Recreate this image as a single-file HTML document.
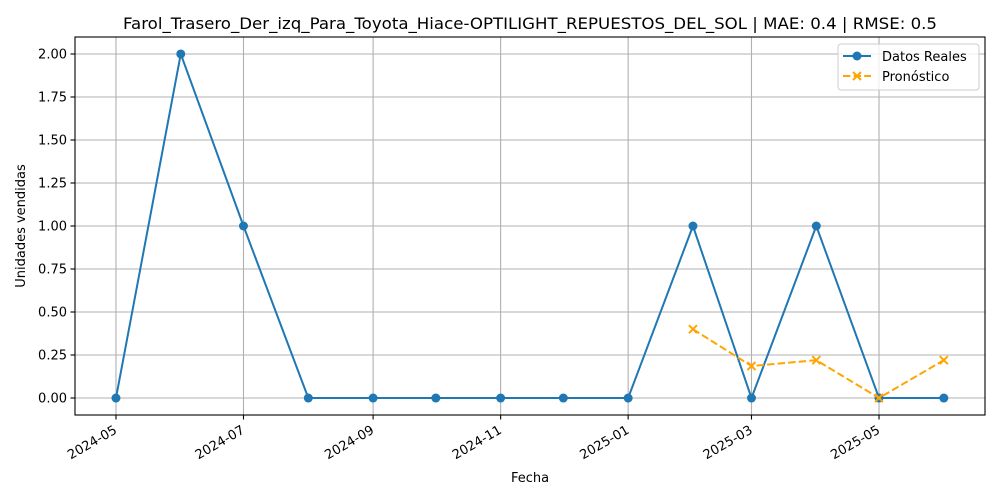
<!DOCTYPE html>
<html><head><meta charset="utf-8"><style>
html,body{margin:0;padding:0;background:#fff;}
svg{display:block;font-family:"DejaVu Sans","Liberation Sans",sans-serif;}
</style></head><body>
<svg id="chart" width="1000" height="500" xmlns="http://www.w3.org/2000/svg">
<rect x="0" y="0" width="1000" height="500" fill="#fff"/>
<text x="530" y="29" text-anchor="middle" font-size="16" textLength="814" lengthAdjust="spacingAndGlyphs" fill="#000">Farol_Trasero_Der_izq_Para_Toyota_Hiace-OPTILIGHT_REPUESTOS_DEL_SOL | MAE: 0.4 | RMSE: 0.5</text>
<g id="grid"></g>
<g id="axes"></g>
<g id="series"></g>
<rect x="75" y="37" width="910" height="378" fill="none" stroke="#000" stroke-width="1.1"/>
<text x="530" y="482" text-anchor="middle" font-size="13" fill="#000">Fecha</text>
<text transform="translate(25,226) rotate(-90)" text-anchor="middle" font-size="13" fill="#000">Unidades vendidas</text>
<g>
<rect x="838" y="44" width="141" height="46" rx="3" fill="#fff" fill-opacity="0.8" stroke="#ccc"/>
<g>
<line x1="843" y1="56" x2="871" y2="56" stroke="#1f77b4" stroke-width="2"/>
<circle cx="857" cy="56" r="4.5" fill="#1f77b4"/>
<text x="882" y="61" font-size="13" fill="#000">Datos Reales</text>
</g>
<g>
<line x1="843" y1="76" x2="871" y2="76" stroke="orange" stroke-width="2" stroke-dasharray="7.4,3.2"/>
<path d="M853,72 L861,80 M853,80 L861,72" stroke="orange" stroke-width="2"/>
<text x="882" y="81" font-size="13" fill="#000">Pronóstico</text>
</g>
</g>
</svg>
<script>
const actualDates = ["2024-05-01","2024-06-01","2024-07-01","2024-08-01","2024-09-01","2024-10-01","2024-11-01","2024-12-01","2025-01-01","2025-02-01","2025-03-01","2025-04-01","2025-05-01","2025-06-01"];
const actualValues = [0,2,1,0,0,0,0,0,0,1,0,1,0,0];
const forecastDates = ["2025-02-01","2025-03-01","2025-04-01","2025-05-01","2025-06-01"];
const forecastValues = [0.40,0.186,0.22,0.0,0.22];
const xTickLabels = ["2024-05","2024-07","2024-09","2024-11","2025-01","2025-03","2025-05"];
const yTickValues = [0,0.25,0.5,0.75,1.0,1.25,1.5,1.75,2.0];

const NS="http://www.w3.org/2000/svg";
const base=Date.UTC(2024,4,1), DAY=86400000;
function days(s){const p=s.split("-").map(Number);return (Date.UTC(p[0],p[1]-1,p[2]||1)-base)/DAY;}
const xMin=-19.6,xMax=415.7,L=75,R=985,T=37,B=415,yMin=-0.0988,yMax=2.0988;
function xs(d){return L+(days(d)-xMin)/(xMax-xMin)*(R-L);}
function ys(v){return B-(v-yMin)/(yMax-yMin)*(B-T);}
function mk(tag,attrs,parent){const e=document.createElementNS(NS,tag);for(const k in attrs)e.setAttribute(k,attrs[k]);parent.appendChild(e);return e;}
const grid=document.getElementById("grid"),axes=document.getElementById("axes"),series=document.getElementById("series");

yTickValues.forEach(v=>{
  const y=ys(v);
  const g=mk("line",{x1:L,x2:R,y1:y,y2:y,stroke:"#b0b0b0","stroke-width":1.1},grid);
  
  
  mk("line",{x1:L-4.5,x2:L,y1:y,y2:y,stroke:"#000","stroke-width":1.1},axes);
  const t=mk("text",{x:L-8,y:y+4.5,"text-anchor":"end","font-size":13,fill:"#000"},axes);
  t.textContent=v.toFixed(2);
  
  
});
xTickLabels.forEach(lbl=>{
  const x=xs(lbl+"-01");
  const g=mk("line",{x1:x,x2:x,y1:T,y2:B,stroke:"#b0b0b0","stroke-width":1.1},grid);
  
  
  mk("line",{x1:x,x2:x,y1:B,y2:B+4.5,stroke:"#000","stroke-width":1.1},axes);
  const t=mk("text",{transform:`translate(${x-3},${B+9}) rotate(-30)`,"text-anchor":"end","font-size":13,fill:"#000",dy:"0.75em"},axes);
  t.textContent=lbl;
  
  
});

const ap=actualDates.map((d,i)=>xs(d)+","+ys(actualValues[i])).join(" ");
const al=mk("polyline",{points:ap,fill:"none",stroke:"#1f77b4","stroke-width":2},series);


actualDates.forEach((d,i)=>{
  const c=mk("circle",{cx:xs(d),cy:ys(actualValues[i]),r:4.5,fill:"#1f77b4"},series);
  
  
});
const fp=forecastDates.map((d,i)=>xs(d)+","+ys(forecastValues[i])).join(" ");
const fl=mk("polyline",{points:fp,fill:"none",stroke:"orange","stroke-width":2,"stroke-dasharray":"7.4,3.2"},series);


forecastDates.forEach((d,i)=>{
  const x=xs(d),y=ys(forecastValues[i]);
  const m=mk("path",{d:`M${x-4},${y-4}L${x+4},${y+4}M${x-4},${y+4}L${x+4},${y-4}`,stroke:"orange","stroke-width":2},series);
  
  
});
</script>
</body></html>
